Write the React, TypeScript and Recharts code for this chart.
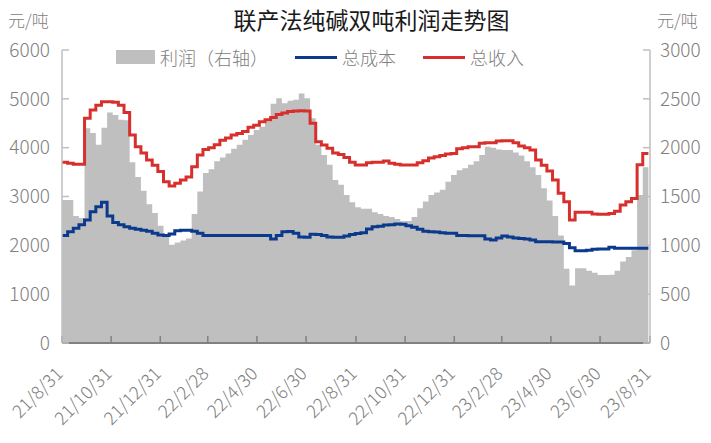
import React from 'react'
import { ComposedChart, Area, Line, XAxis, YAxis, Legend } from 'recharts'

// weekly samples from 2021-08-31
const income = [
  3700, 3680, 3660, 3660, 4600, 4770, 4870, 4940, 4940, 4930,
  4870, 4720, 4260, 4020, 3890, 3750, 3640, 3510, 3300, 3215,
  3270, 3340, 3400, 3610, 3850, 3960, 4000, 4060, 4150, 4200,
  4260, 4290, 4330, 4420, 4460, 4530, 4570, 4620, 4680, 4710,
  4740, 4750, 4755, 4750, 4500, 4120, 4055, 3990, 3890, 3860,
  3800, 3700, 3645, 3645, 3690, 3700, 3700, 3725, 3680, 3660,
  3645, 3645, 3645, 3690, 3730, 3790, 3815, 3840, 3870, 3880,
  3980, 4000, 4020, 4020, 4090, 4100, 4100, 4135, 4140, 4140,
  4100, 4035, 4000, 3950, 3750, 3640, 3520, 3340, 3065, 2890,
  2520, 2680, 2680, 2675, 2640, 2635, 2635, 2650, 2700, 2825,
  2890, 2960, 3650, 3880, 3880,
]

const cost = [
  2200, 2280, 2350, 2420, 2520, 2690, 2790, 2880, 2600, 2470,
  2420, 2380, 2350, 2330, 2310, 2290, 2250, 2210, 2200, 2230,
  2300, 2310, 2310, 2290, 2250, 2200, 2200, 2200, 2200, 2200,
  2200, 2200, 2200, 2200, 2200, 2200, 2200, 2130, 2200, 2280,
  2285, 2250, 2170, 2165, 2225, 2220, 2200, 2170, 2165, 2165,
  2190, 2220, 2240, 2260, 2335, 2380, 2390, 2415, 2420, 2435,
  2430, 2400, 2370, 2330, 2290, 2280, 2275, 2260, 2245, 2245,
  2200, 2200, 2195, 2195, 2195, 2130, 2110, 2150, 2190, 2170,
  2150, 2140, 2130, 2110, 2075, 2075, 2075, 2070, 2070, 2040,
  1950, 1890, 1890, 1900, 1920, 1925, 1925, 1960, 1940, 1940,
  1940, 1940, 1940, 1940, 1940,
]

const profit = [
  1465, 1465, 1300, 1280, 2200, 2150, 2030, 2205, 2360, 2335,
  2285, 2280, 1850, 1700, 1560, 1420, 1330, 1200, 1100, 1005,
  1030, 1050, 1070, 1320, 1550, 1740, 1780, 1860, 1900, 1940,
  1990, 2030, 2080, 2130, 2180, 2215, 2270, 2450, 2505, 2455,
  2480, 2490, 2555, 2505, 2300, 2030, 1925, 1825, 1670, 1620,
  1515, 1440, 1390, 1375, 1375, 1340, 1320, 1300, 1290, 1270,
  1250, 1250, 1290, 1380, 1450, 1515, 1540, 1570, 1650, 1720,
  1770, 1790, 1825, 1860, 1925, 2010, 2000, 1980, 1975, 1975,
  1950, 1920, 1860, 1800, 1720, 1585, 1460, 1300, 1100, 760,
  590, 765, 765, 740, 720, 695, 695, 700, 740, 835,
  880, 950, 1515, 1800, 1800,
]

const tickLabels = [
  '21/8/31', '21/10/31', '21/12/31', '22/2/28', '22/4/30', '22/6/30', '22/8/31',
  '22/10/31', '22/12/31', '23/2/28', '23/4/30', '23/6/30', '23/8/31',
]

const leftTicks = [0, 1000, 2000, 3000, 4000, 5000, 6000]
const rightTicks = [0, 500, 1000, 1500, 2000, 2500, 3000]

const DAY = 86400000
const toTime = (s: string) => {
  const [y, m, d] = s.split('/').map(Number)
  return Date.UTC(2000 + y, m - 1, d)
}
const start = toTime(tickLabels[0])
const tickDays = tickLabels.map((s) => Math.round((toTime(s) - start) / DAY))
const labelOf = (d: number) => tickLabels[tickDays.indexOf(d)] ?? ''

const data = income.map((v, i) => ({
  day: i * 7,
  income: v,
  cost: cost[i],
  profit: profit[i],
}))

const font = '"Noto Sans CJK SC", "Noto Sans", sans-serif'
const grey = '#808080'

const DateTick = (props: any) => {
  const { x, y, payload } = props
  const ax = x + 2
  return (
    <text x={ax} y={y} textAnchor="end" fill={grey} fontSize={18} fontWeight={300} fontFamily={font}
      transform={`rotate(-45 ${ax} ${y})`}>
      {labelOf(payload.value)}
    </text>
  )
}

const markerFor = (key: string) => {
  if (key === 'profit') return <span style={{ width: 39, height: 14, background: '#bfbfbf', display: 'inline-block' }} />
  const c = key === 'cost' ? '#0b3a8c' : '#d7302c'
  return <span style={{ width: 42, height: 3, background: c, display: 'inline-block' }} />
}

const LegendContent = (props: any) => (
  <div style={{ display: 'flex', alignItems: 'center', paddingLeft: 116, fontSize: 18, fontWeight: 300, color: grey, fontFamily: font, lineHeight: '24px' }}>
    {(props.payload || []).map((e: any) => (
      <div key={e.dataKey} style={{ display: 'flex', alignItems: 'center', marginRight: 27 }}>
        {markerFor(e.dataKey)}
        <span style={{ marginLeft: 5 }}>{e.value}</span>
      </div>
    ))}
  </div>
)

export default function App() {
  return (
    <div style={{ position: 'absolute', left: 0, top: 0, width: 711, height: 443, background: '#fff', fontFamily: font }}>
      <div style={{ position: 'absolute', left: 0, width: 711, top: 4, textAlign: 'center', fontSize: 23, color: '#1a1a1a', lineHeight: '30px', paddingLeft: 32, boxSizing: 'border-box' }}>
        联产法纯碱双吨利润走势图
      </div>
      <div style={{ position: 'absolute', left: 8, top: 8, fontSize: 17, fontWeight: 300, color: grey, lineHeight: '24px' }}>元/吨</div>
      <div style={{ position: 'absolute', left: 657, top: 8, fontSize: 17, fontWeight: 300, color: grey, lineHeight: '24px' }}>元/吨</div>
      <ComposedChart width={711} height={443} data={data} margin={{ top: 50, right: 0, bottom: 40, left: 0 }}>
        <XAxis
          dataKey="day"
          type="number"
          domain={[0, 730]}
          ticks={tickDays}
          interval={0}
          height={60}
          tick={<DateTick />}
          tickSize={-7}
          tickMargin={39}
          axisLine={{ stroke: grey, strokeWidth: 2 }}
          tickLine={{ stroke: grey, strokeWidth: 1.5 }}
        />
        <YAxis
          yAxisId="left"
          width={62}
          domain={[0, 6000]}
          ticks={leftTicks}
          interval={0}
          tickSize={-7}
          tickMargin={19}
          tick={{ fill: grey, fontSize: 19, fontWeight: 300, fontFamily: font }}
          axisLine={{ stroke: '#bfbfbf', strokeWidth: 1.5 }}
          tickLine={{ stroke: '#bfbfbf', strokeWidth: 1.5 }}
        />
        <YAxis
          yAxisId="right"
          orientation="right"
          width={61}
          domain={[0, 3000]}
          ticks={rightTicks}
          interval={0}
          tickSize={-7}
          tickMargin={17}
          tick={{ fill: grey, fontSize: 19, fontWeight: 300, fontFamily: font }}
          axisLine={{ stroke: '#bfbfbf', strokeWidth: 1.5 }}
          tickLine={{ stroke: '#bfbfbf', strokeWidth: 1.5 }}
        />
        <Legend verticalAlign="middle" align="center" content={<LegendContent />}
          wrapperStyle={{ top: 45, left: 0, width: 711 }} />
        <Area
          yAxisId="right"
          dataKey="profit"
          name="利润（右轴）"
          type="stepAfter"
          fill="#bfbfbf"
          fillOpacity={1}
          stroke="none"
          isAnimationActive={false}
        />
        <Line
          yAxisId="left"
          dataKey="cost"
          name="总成本"
          type="stepAfter"
          stroke="#0b3a8c"
          strokeWidth={3}
          dot={false}
          isAnimationActive={false}
        />
        <Line
          yAxisId="left"
          dataKey="income"
          name="总收入"
          type="stepAfter"
          stroke="#d7302c"
          strokeWidth={3}
          dot={false}
          isAnimationActive={false}
        />
      </ComposedChart>
    </div>
  )
}
